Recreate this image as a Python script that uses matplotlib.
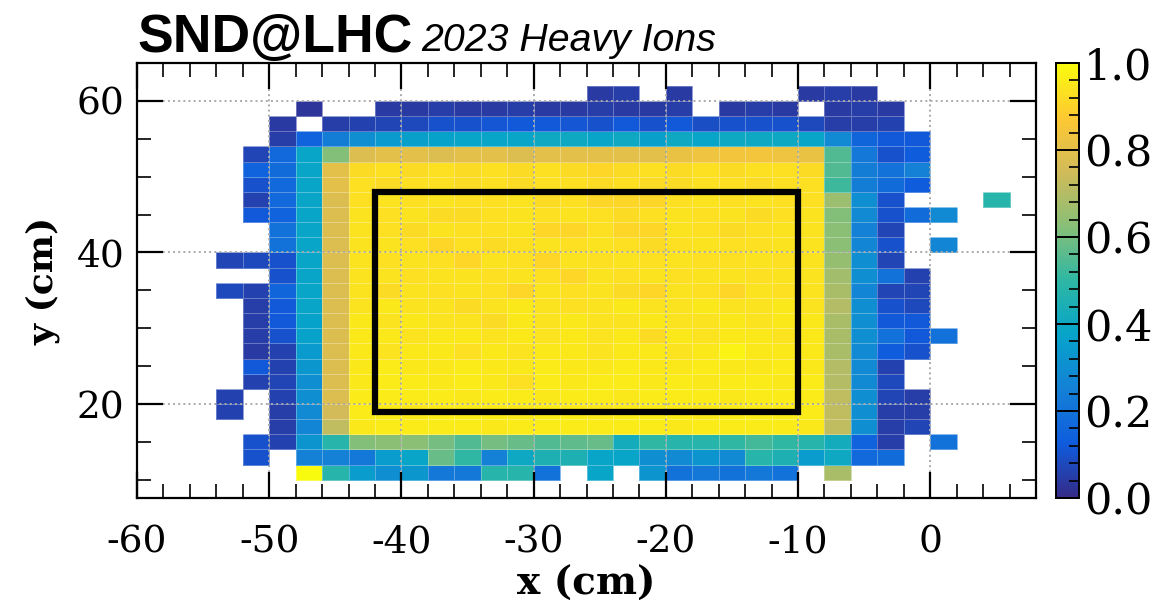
import numpy as np
import matplotlib
matplotlib.use("Agg")
import matplotlib.pyplot as plt
from matplotlib.colors import LinearSegmentedColormap
from matplotlib.patches import Rectangle
from matplotlib.ticker import MultipleLocator

n = np.nan

# bin edges (cm)
x_edges = np.arange(-54, 8, 2)   # 30 columns, -54 .. 6
y_edges = np.arange(10, 64, 2)   # 26 rows, 10 .. 62

# efficiency per bin, rows listed from top (y 60-62) to bottom (y 10-12)
eff_rows = [
    [n, n, n, n, n, n, n, n, n, n, n, n, n, n, .04, .05, n, .04, n, n, n, n, .04, .05, .04, n, n, n, n, n],
    [n, n, n, .03, n, n, .04, .04, .05, .04, .04, .05, .04, .04, .05, .04, .04, .05, n, .04, .05, .04, n, .04, .05, .04, n, n, n, n],
    [n, n, .04, n, .05, .06, .07, .08, .10, .10, .11, .12, .12, .11, .10, .12, .10, .12, .09, .10, .10, .10, .08, .05, .05, .06, n, n, n, n],
    [n, n, .05, .15, .24, .30, .34, .36, .37, .38, .38, .38, .40, .40, .38, .40, .36, .40, .38, .40, .40, .40, .38, .28, .16, .12, .12, n, n, n],
    [n, .07, .17, .38, .62, .78, .80, .80, .78, .80, .80, .78, .80, .80, .80, .80, .80, .82, .83, .84, .84, .83, .82, .55, .22, .10, .13, n, n, n],
    [n, .15, .18, .38, .80, .92, .93, .92, .93, .92, .93, .92, .93, .92, .91, .92, .93, .92, .93, .92, .93, .93, .92, .55, .24, .20, .25, n, n, n],
    [n, .10, .17, .38, .80, .93, .92, .93, .93, .92, .93, .92, .93, .93, .92, .93, .92, .92, .93, .93, .92, .93, .93, .52, .24, .18, .13, n, n, n],
    [n, .06, .17, .38, .78, .93, .94, .93, .94, .93, .93, .94, .92, .93, .91, .91, .91, .93, .94, .93, .94, .93, .93, .66, .30, .10, n, n, n, .48],
    [n, .12, .15, .38, .78, .94, .93, .94, .92, .92, .93, .94, .93, .94, .93, .92, .93, .94, .93, .94, .92, .93, .94, .62, .28, .10, .18, .28, n, n],
    [n, n, .20, .38, .78, .94, .93, .92, .94, .93, .93, .94, .91, .91, .93, .91, .91, .94, .93, .92, .93, .94, .94, .63, .25, .07, n, n, n, n],
    [n, n, .20, .38, .78, .94, .94, .93, .91, .93, .92, .93, .94, .93, .94, .93, .92, .93, .94, .93, .93, .94, .94, .63, .27, .10, n, .27, n, n],
    [.07, .08, .10, .38, .78, .94, .93, .94, .93, .91, .94, .93, .91, .94, .93, .94, .93, .94, .93, .93, .94, .93, .94, .65, .30, .07, n, n, n, n],
    [n, n, .10, .38, .78, .94, .94, .93, .94, .94, .93, .94, .93, .91, .94, .93, .94, .93, .94, .94, .93, .94, .94, .67, .30, .20, .06, n, n, n],
    [.08, .06, .16, .38, .78, .94, .92, .94, .93, .94, .93, .91, .94, .93, .94, .92, .91, .94, .93, .91, .94, .93, .94, .68, .27, .07, .07, n, n, n],
    [n, .05, .12, .38, .78, .94, .95, .94, .94, .92, .94, .95, .94, .93, .94, .95, .94, .94, .95, .94, .94, .95, .94, .70, .30, .10, .08, n, n, n],
    [n, .05, .12, .37, .78, .95, .94, .95, .94, .94, .92, .95, .94, .95, .94, .94, .95, .94, .94, .95, .94, .95, .95, .68, .30, .12, .12, n, n, n],
    [n, .05, .10, .37, .78, .95, .95, .94, .95, .95, .94, .95, .94, .95, .94, .95, .92, .95, .94, .95, .95, .94, .95, .68, .30, .20, .12, .20, n, n],
    [n, .04, .06, .34, .78, .95, .94, .95, .95, .93, .95, .94, .95, .95, .94, .95, .95, .94, .95, .98, .95, .95, .95, .68, .28, .13, .10, n, n, n],
    [n, .12, .06, .33, .78, .95, .96, .95, .95, .96, .95, .95, .96, .95, .95, .96, .95, .95, .96, .95, .95, .96, .95, .70, .28, .06, n, n, n, n],
    [n, .06, .07, .30, .78, .95, .96, .96, .95, .96, .95, .93, .96, .95, .96, .96, .95, .96, .95, .96, .96, .95, .96, .70, .28, .08, n, n, n, n],
    [.06, n, .06, .30, .78, .96, .96, .96, .96, .95, .96, .96, .95, .96, .96, .95, .96, .96, .96, .95, .96, .96, .96, .72, .30, .07, .05, n, n, n],
    [.06, n, .05, .28, .75, .96, .96, .95, .96, .96, .96, .95, .96, .96, .95, .96, .96, .96, .95, .96, .96, .96, .96, .72, .30, .05, .05, n, n, n],
    [n, n, .05, .27, .72, .95, .96, .96, .96, .96, .95, .96, .96, .96, .96, .96, .96, .95, .96, .96, .96, .96, .95, .72, .30, .05, .07, n, n, n],
    [n, .10, .06, .32, .48, .62, .63, .63, .60, .55, .60, .58, .55, .57, .58, .42, .50, .48, .48, .50, .53, .50, .48, .42, .15, .05, n, .20, n, n],
    [n, .10, n, .25, .25, .22, .35, .38, .58, .50, .25, .40, .45, .45, .38, .38, .30, .28, .32, .28, .48, .45, .35, .40, .17, .18, n, n, n, n],
    [n, n, n, 1.0, .48, .35, .30, .33, .22, .22, .48, .48, .20, n, .38, n, .32, .20, .22, .20, .22, .20, n, .68, n, n, n, n, n, n],
]

# fiducial box (cm)
box_x = [-42, -10]
box_y = [19, 48]

# ROOT kBird palette
bird_stops = [0.0, 0.125, 0.25, 0.375, 0.5, 0.625, 0.75, 0.875, 1.0]
bird_r = [0.2082, 0.0592, 0.0780, 0.0232, 0.1802, 0.5301, 0.8186, 0.9956, 0.9764]
bird_g = [0.1664, 0.3599, 0.5041, 0.6419, 0.7178, 0.7492, 0.7328, 0.7862, 0.9832]
bird_b = [0.5293, 0.8684, 0.8385, 0.7914, 0.6425, 0.4662, 0.3499, 0.1968, 0.0539]
bird = LinearSegmentedColormap.from_list(
    'bird', list(zip(bird_stops, zip(bird_r, bird_g, bird_b))), N=256)

plt.rcParams['axes.unicode_minus'] = False
plt.rcParams['font.family'] = 'DejaVu Serif'

eff = np.ma.masked_invalid(np.array(eff_rows)[::-1])

fig = plt.figure(figsize=(11.6, 6.04), dpi=100)
ax = fig.add_axes([137 / 1160, 1 - 498 / 604, 899 / 1160, 435 / 604])
cax = fig.add_axes([1056 / 1160, 1 - 498 / 604, 23 / 1160, 435 / 604])

mesh = ax.pcolormesh(x_edges, y_edges, eff, cmap=bird, vmin=0, vmax=1,
                     edgecolors=(1, 1, 1, 0.3), linewidth=0.5)
ax.add_patch(Rectangle((box_x[0], box_y[0]), box_x[1] - box_x[0], box_y[1] - box_y[0],
                       fill=False, edgecolor='black', lw=4.5, zorder=5))

ax.set_xlim(-60, 8)
ax.set_ylim(7.6, 65)
ax.xaxis.set_major_locator(MultipleLocator(10))
ax.xaxis.set_minor_locator(MultipleLocator(2))
ax.yaxis.set_major_locator(MultipleLocator(20))
ax.yaxis.set_minor_locator(MultipleLocator(5))
ax.tick_params(which='both', direction='in', top=True, right=True, labelsize=27)
ax.tick_params(which='major', length=19, width=1.6)
ax.tick_params(which='minor', length=10, width=1.2)
ax.tick_params(axis='x', which='major', pad=19)
ax.tick_params(axis='y', which='major', pad=9)
ax.grid(True, which='major', linestyle=':', color='#aaaaaa', lw=1.4)
for s in ax.spines.values():
    s.set_linewidth(1.6)

ax.set_xlabel('x (cm)', fontsize=28, fontweight='bold', labelpad=3)
ax.set_ylabel('y (cm)', fontsize=26, fontweight='bold', labelpad=12)

cb = fig.colorbar(mesh, cax=cax)
cb.set_ticks([0, 0.2, 0.4, 0.6, 0.8, 1.0])
cb.ax.yaxis.set_minor_locator(MultipleLocator(0.04))
cb.ax.tick_params(which='both', direction='in', labelsize=31)
cb.ax.tick_params(which='major', length=17, width=1.4)
cb.ax.tick_params(which='minor', length=7, width=1.2)
cb.outline.set_linewidth(1.4)

fig.text(137 / 1160, 1 - 52 / 604, 'SND@LHC', fontsize=38.5, fontweight='bold',
         family='Liberation Sans', va='baseline')
fig.text(421 / 1160, 1 - 51 / 604, '2023 Heavy Ions', fontsize=28.3, style='italic',
         family='Liberation Sans', va='baseline')

fig.savefig('out.png', dpi=100)
